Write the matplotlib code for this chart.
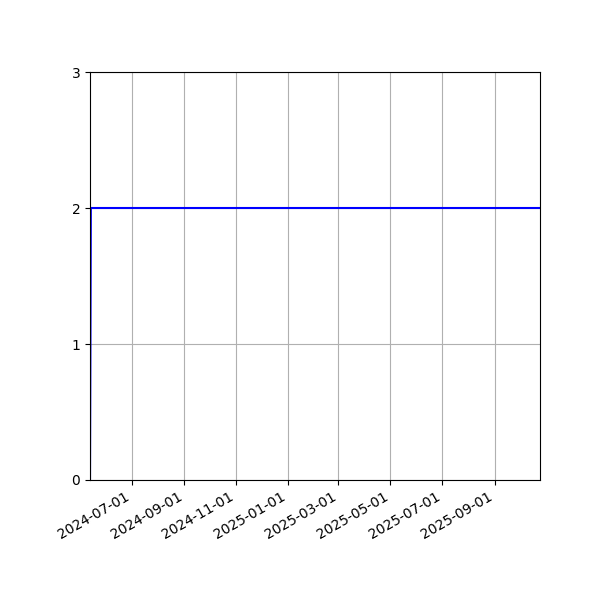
import matplotlib
matplotlib.use("Agg")
import matplotlib.pyplot as plt
import matplotlib.dates as mdates
import numpy as np
import pandas as pd

start_date = "2024-05-13"
end_date = "2025-10-24"
first_value = 0
level_value = 2
y_ticks = [0, 1, 2, 3]

dates = pd.date_range(start_date, end_date, freq="D")
values = np.array([first_value] + [level_value] * (len(dates) - 1))

fig, ax = plt.subplots(figsize=(6, 6), dpi=100)
fig.subplots_adjust(left=0.15, right=0.9, top=0.88, bottom=0.2)
ax.plot(dates, values, color="blue", linewidth=1.5)
ax.set_xlim(dates[0], dates[-1])
ax.set_ylim(0, 3)
ax.set_yticks(y_ticks)
ax.xaxis.set_major_locator(mdates.MonthLocator(bymonth=[1, 3, 5, 7, 9, 11]))
ax.xaxis.set_major_formatter(mdates.DateFormatter("%Y-%m-%d"))
ax.grid(True)
for lbl in ax.get_xticklabels():
    lbl.set_rotation(30)
    lbl.set_ha("right")
fig.savefig("out.png", dpi=100)
